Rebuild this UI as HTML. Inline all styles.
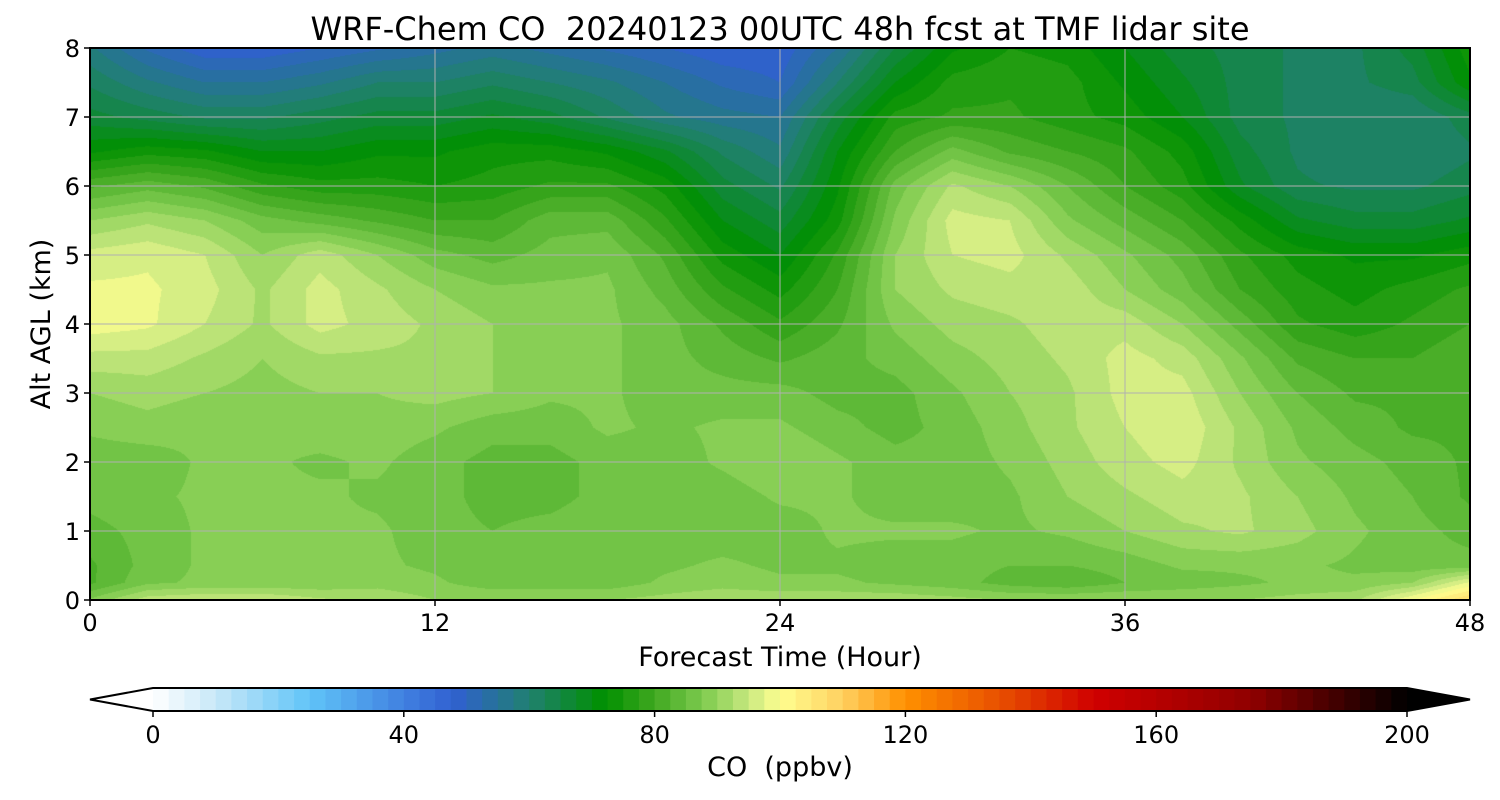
<!DOCTYPE html>
<html><head><meta charset="utf-8"><style>
body{margin:0;background:#fff;font-family:"DejaVu Sans",sans-serif}
#wrap{position:relative;width:1500px;height:800px;overflow:hidden}
</style></head><body>
<div id="wrap">
<canvas id="cv" width="1380" height="552" style="position:absolute;left:90px;top:48px"></canvas>
<svg id="svg" width="1500" height="800" style="position:absolute;left:0;top:0"></svg>
</div>
<script>
const hours=[0,2,4,6,8,10,12,14,16,18,20,22,24,26,28,30,32,34,36,38,40,42,44,46,48];
const alts=[0,0.25,0.5,1,1.5,2,2.5,3,3.5,4,4.5,5,5.5,6,6.5,7,7.5,8];
const coValues=[
[88,94,95,95,93,92,90,90,90,90,91,92,92,92,92,91,90,90,90,90,90,91,92,100,108],
[82,87,88,88,88,89,88,86,86,86,88,89,88,88,87,86,84,83,85,86,87,88,88,90,98],
[82,86,88,88,88,88,87,85,85,86,87,88,87,87,86,86,85,85,86,88,88,88,87,86,86],
[84,86,88,88,88,88,86,85,86,87,86,86,86,88,88,88,87,88,90,92,93,91,88,86,84],
[86,87,88,88,88,87,86,84,84,86,86,86,88,88,86,86,87,90,92,94,93,90,87,85,82],
[86,86,88,88,87,88,86,84,84,86,86,88,90,88,86,86,88,91,94,96,92,88,86,84,82],
[88,89,88,88,89,89,88,86,86,88,87,88,88,86,84,86,89,92,95,97,92,87,84,82,82],
[90,91,90,89,90,90,91,90,88,88,86,86,86,84,84,87,90,92,96,96,90,85,82,82,82],
[94,94,92,90,92,92,92,90,88,88,86,84,82,84,86,89,91,93,96,94,88,82,80,80,82],
[99,98,95,92,96,94,92,90,88,88,86,82,78,82,88,91,92,94,94,90,84,78,76,78,80],
[98,98,96,92,96,93,90,88,88,88,84,78,74,80,90,93,94,94,90,86,80,76,74,76,78],
[96,97,95,90,94,90,86,84,86,87,82,74,70,78,90,95,96,92,88,84,78,74,72,72,74],
[90,92,90,86,84,82,80,80,84,84,78,70,66,74,88,96,95,88,84,80,74,68,66,66,68],
[82,84,82,78,76,76,75,76,78,78,74,66,62,72,86,93,90,85,80,76,68,63,62,62,64],
[72,74,73,70,70,72,72,74,74,72,68,62,58,70,80,86,82,80,78,74,66,62,60,60,62],
[66,64,62,62,64,66,66,68,66,62,58,56,55,66,76,78,78,76,74,70,64,62,60,60,64],
[62,58,55,55,57,60,60,62,60,58,55,52,50,60,70,76,77,76,72,68,64,62,62,64,72],
[58,52,48,48,50,52,54,56,54,52,50,48,48,55,65,72,75,74,70,66,64,62,62,66,74]];
const xTicks=[0,12,24,36,48];
const yTicks=[0,1,2,3,4,5,6,7,8];
const cbTicks=[0,40,80,120,160,200];
const stops=[[0,'#ffffff'],[10,'#c8e8f8'],[25,'#60c4f8'],[40,'#4080e0'],[48,'#3060d0'],[60,'#208070'],[72,'#009000'],[80,'#40a820'],[88,'#80cc50'],[95,'#c8e880'],[100,'#ffff90'],[110,'#ffd060'],[120,'#ff9000'],[135,'#e85000'],[150,'#d00000'],[175,'#900000'],[200,'#000000']];
function hex(c){return [1,3,5].map(i=>parseInt(c.substr(i,2),16));}
function cmap(v){v=Math.max(0,Math.min(200,v));
 for(let i=1;i<stops.length;i++){if(v<=stops[i][0]){const a=stops[i-1],b=stops[i];const t=(v-a[0])/(b[0]-a[0]);const A=hex(a[1]),B=hex(b[1]);return A.map((x,k)=>Math.round(x+(B[k]-x)*t));}}return [0,0,0];}
const X0=90,X1=1470,Y0=600,Y1=48;
const xs=h=>X0+(h-0)/48*(X1-X0), ys=a=>Y0-(a/8)*(Y0-Y1);
function interp(arr,v){let i=0;while(i<arr.length-2&&v>arr[i+1])i++;return [i,(v-arr[i])/(arr[i+1]-arr[i])];}
const cv=document.getElementById('cv'),ctx=cv.getContext('2d');const W=cv.width,H=cv.height;
const img=ctx.createImageData(W,H);
for(let py=0;py<H;py++){const a=8*(1-(py+0.5)/H);const [j,ty]=interp(alts,a);
 for(let px=0;px<W;px++){const h=48*(px+0.5)/W;const [i,tx]=interp(hours,h);
  const v=(coValues[j][i]*(1-tx)+coValues[j][i+1]*tx)*(1-ty)+(coValues[j+1][i]*(1-tx)+coValues[j+1][i+1]*tx)*ty;
  const q=Math.floor(v/2.5)*2.5+1.25;const c=cmap(q);const o=(py*W+px)*4;
  img.data[o]=c[0];img.data[o+1]=c[1];img.data[o+2]=c[2];img.data[o+3]=255;}}
ctx.putImageData(img,0,0);
const svg=document.getElementById('svg');const NS='http://www.w3.org/2000/svg';
function el(t,a,p){const e=document.createElementNS(NS,t);for(const k in a)e.setAttribute(k,a[k]);(p||svg).appendChild(e);return e;}
function txt(s,x,y,size,anchor,name,extra){const e=el('text',Object.assign({x:x,y:y,'font-size':size,'text-anchor':anchor||'middle','font-family':'DejaVu Sans, sans-serif',fill:'#000'},extra||{}));e.textContent=s;return e;}
xTicks.forEach(t=>{const g=el('line',{x1:xs(t),x2:xs(t),y1:Y1,y2:Y0,stroke:'#b0b0b0','stroke-width':1});
 
 const tk=el('line',{x1:xs(t),x2:xs(t),y1:Y0,y2:Y0+6,stroke:'#000','stroke-width':1.5});
 
 txt(String(t),xs(t),Y0+31,24,'middle','x-tick-label');});
yTicks.forEach(t=>{const g=el('line',{x1:X0,x2:X1,y1:ys(t),y2:ys(t),stroke:'#b0b0b0','stroke-width':1});
 
 const tk=el('line',{x1:X0-6,x2:X0,y1:ys(t),y2:ys(t),stroke:'#000','stroke-width':1.5});
 
 txt(String(t),X0-10,ys(t)+9,24,'end','y-tick-label');});
const fr=el('rect',{x:X0,y:Y1,width:X1-X0,height:Y0-Y1,fill:'none',stroke:'#000','stroke-width':2});

txt('WRF-Chem CO\u00a0 20240123 00UTC 48h fcst at TMF lidar site',780,40,32,'middle','chart-title');
txt('Forecast Time (Hour)',780,666,27,'middle','x-axis-title');
txt('Alt AGL (km)',50,324,27,'middle','y-axis-title',{transform:'rotate(-90 50 324)'});
const C0=153,C1=1407,CY=688,CH=23;const cs=v=>C0+v/200*(C1-C0);
const lv=[];for(let v=0;v<200;v+=2.5)lv.push(v);
lv.forEach(v=>{const c=cmap(v+1.25);const r=el('rect',{x:cs(v),y:CY,width:cs(2.5)-cs(0)+0.6,height:CH,fill:'rgb('+c.join(',')+')'});
 });
const lt=el('polygon',{points:`${C0},${CY} 90,${CY+CH/2} ${C0},${CY+CH}`,fill:'#fff'});

const rt=el('polygon',{points:`${C1},${CY} 1470,${CY+CH/2} ${C1},${CY+CH}`,fill:'#000'});

const ob=el('polygon',{points:`${C0},${CY} ${C1},${CY} 1470,${CY+CH/2} ${C1},${CY+CH} ${C0},${CY+CH} 90,${CY+CH/2}`,fill:'none',stroke:'#000','stroke-width':2});

cbTicks.forEach(t=>{const tk=el('line',{x1:cs(t),x2:cs(t),y1:CY+CH,y2:CY+CH+6,stroke:'#000','stroke-width':1.5});
 
 txt(String(t),cs(t),CY+CH+32,24,'middle','colorbar-tick-label');});
txt('CO\u00a0 (ppbv)',780,776,27,'middle','colorbar-title');
</script>
</body></html>
